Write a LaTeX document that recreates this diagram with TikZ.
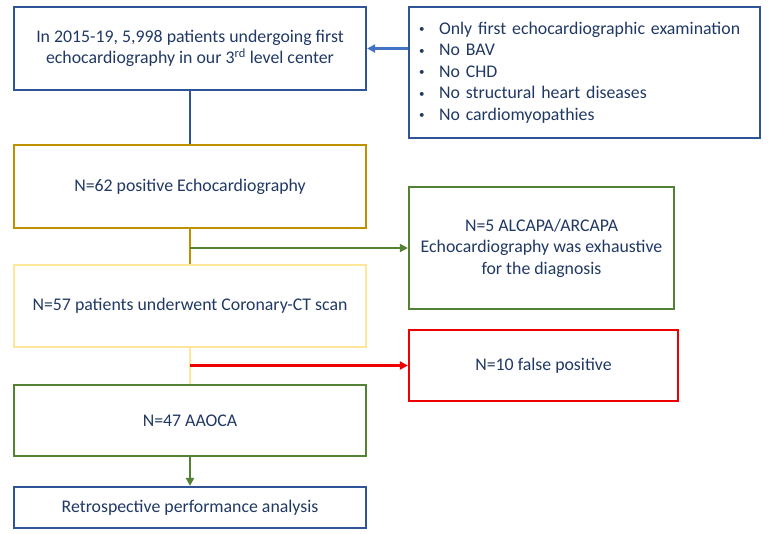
\documentclass[tikz,border=0pt]{standalone}
\usepackage{fontspec}
\setmainfont{Carlito}
\usetikzlibrary{positioning, arrows.meta}

\definecolor{navytext}{HTML}{203864}
\definecolor{boxblue}{HTML}{2F5597}
\definecolor{arrowblue}{HTML}{4472C4}
\definecolor{boxgold}{HTML}{BF9000}
\definecolor{boxyellow}{HTML}{FFE699}
\definecolor{boxgreen}{HTML}{548235}
\definecolor{boxred}{HTML}{EE0000}

\newcommand{\bulletitem}{\makebox[20pt][l]{\fontsize{11}{11}\selectfont\raisebox{1.5pt}{•}}}

\begin{document}
\begin{tikzpicture}[
    x=1pt, y=-1pt,
    font=\fontsize{17.8}{21.5}\selectfont,
    line width=2.2pt,
    >={Triangle[length=8pt, width=8pt]},
    flow/.style={rectangle, draw, text=navytext, align=center, minimum width=352pt, inner sep=0pt},
    side/.style={rectangle, draw, text=navytext, align=center, inner sep=0pt}
]

\useasboundingbox (0,0) rectangle (773,533);

\node[flow, draw=boxblue, minimum height=83pt] (start) at (190,48.5) {In 2015-19, 5,998 patients undergoing first\\echocardiography in our 3\textsuperscript{rd} level center};
\node[side, draw=boxblue, minimum width=351pt, minimum height=131pt, text width=331pt, align=left] (exclude) at (584.5,72.5)
    {\bulletitem Only first echocardiographic examination\\
     \bulletitem No BAV\\
     \bulletitem No CHD\\
     \bulletitem No structural heart diseases\\
     \bulletitem No cardiomyopathies};
\node[flow, draw=boxgold, minimum height=83pt] (positive) at (190,186.5) {N=62 positive Echocardiography};
\node[side, draw=boxgreen, minimum width=265pt, minimum height=122pt] (alcapa) at (541.5,248) {N=5 ALCAPA/ARCAPA\\Echocardiography was exhaustive\\for the diagnosis};
\node[flow, draw=boxyellow, minimum height=82pt] (ctscan) at (190,306) {N=57 patients underwent Coronary-CT scan};
\node[side, draw=boxred, minimum width=269pt, minimum height=71pt] (falsepos) at (543.5,365.5) {N=10 false positive};
\node[flow, draw=boxgreen, minimum height=71pt] (aaoca) at (190,420.5) {N=47 AAOCA};
\node[flow, draw=boxblue, minimum height=41pt] (analysis) at (190,507.5) {Retrospective performance analysis};

\draw[arrowblue, ->] (start.east -| exclude.west) -- (start.east);
\draw[boxblue] (start.south) -- (positive.north);
\draw[boxgold] (positive.south) -- (ctscan.north);
\draw[boxgreen, ->] (alcapa.west -| positive.south) -- (alcapa.west);
\draw[boxyellow] (ctscan.south) -- (aaoca.north);
\draw[boxred, ->] (falsepos.west -| ctscan.south) -- (falsepos.west);
\draw[boxgreen, ->] (aaoca.south) -- (analysis.north);

\end{tikzpicture}
\end{document}
